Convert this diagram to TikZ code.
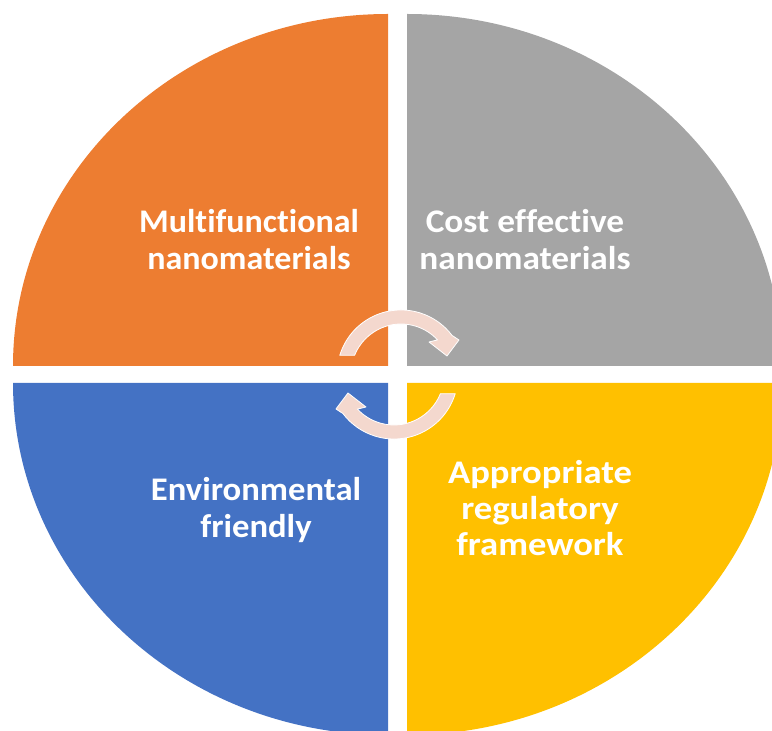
\documentclass[tikz,border=0pt]{standalone}
\usepackage{fontspec}
\setmainfont[Ligatures=NoCommon]{Carlito}
\definecolor{qorange}{HTML}{ED7D31}
\definecolor{qgray}{HTML}{A5A5A5}
\definecolor{qblue}{HTML}{4472C4}
\definecolor{qyellow}{HTML}{FFC000}
\definecolor{arrowpink}{HTML}{F4D8CE}
\tikzset{
  quad/.style={draw=none},
  lbl/.style={text=white, align=center, font=\fontsize{33}{37}\selectfont\bfseries, inner sep=0pt, transform shape},
  cyc/.style={fill=arrowpink, draw=white, line width=0.8pt, line join=round},
  cycpath/.pic={
    \path[cyc] (163:64) arc[start angle=163, end angle=37, radius=64] -- (58,34) -- (46,18) -- (28,32) -- (43:50) arc[start angle=43, end angle=158, radius=50] -- cycle;
  }
}
\begin{document}
\begin{tikzpicture}[x=1pt,y=1pt]
\useasboundingbox (0,0) rectangle (772,731);
\clip (0,0) rectangle (772,731);
% quadrants
\fill[quad, qorange] (388,365) -- (13,365) arc[start angle=180, end angle=90, x radius=375, y radius=352] -- cycle;
\fill[quad, qgray] (407,365) -- (407,717) arc[start angle=90, end angle=0, x radius=375, y radius=352] -- cycle;
\fill[quad, qblue] (388,348) -- (13,348) arc[start angle=180, end angle=270, x radius=375, y radius=352] -- cycle;
\fill[quad, qyellow] (407,348) -- (782,348) arc[start angle=0, end angle=-90, x radius=375, y radius=352] -- cycle;
% cycle arrows
\pic at (401,357) {cycpath};
\pic[rotate=180] at (394,356) {cycpath};
% labels
\begin{scope}[shift={(249,491)}, xscale=1.03]
\node[lbl] (multi) at (0,0) {Multifunctional\\nanomaterials};
\end{scope}
\begin{scope}[shift={(525,491)}, xscale=1.07]
\node[lbl] (cost) at (0,0) {Cost effective\\nanomaterials};
\end{scope}
\begin{scope}[shift={(256,221)}, xscale=1.05]
\node[lbl] (env) at (0,0) {Environmental\\friendly};
\end{scope}
\begin{scope}[shift={(540,223)}, xscale=1.11]
\node[lbl, font=\fontsize{33}{36}\selectfont\bfseries] (reg) at (0,0) {Appropriate\\regulatory\\framework};
\end{scope}
\end{tikzpicture}
\end{document}
